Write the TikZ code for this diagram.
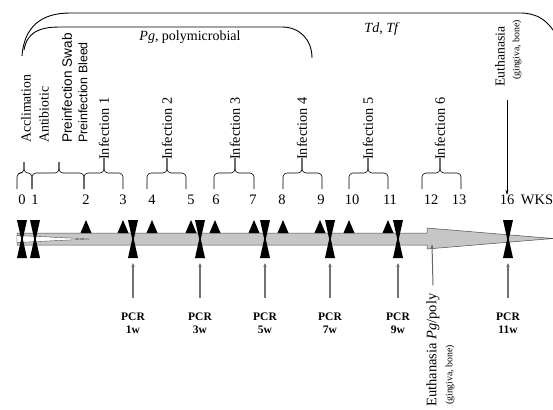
\documentclass[tikz,border=0pt]{standalone}
\usepackage{fontspec}
\setmainfont{Liberation Serif}
\newfontfamily\arialfont{Liberation Sans}
\usetikzlibrary{arrows.meta}

\begin{document}
\begin{tikzpicture}[
    x=1pt, y=-1pt, % one unit = one pixel of the reference
    week/.style={inner sep=0pt, font=\fontsize{14.5}{16}\selectfont},
    vlabel/.style={rotate=90, anchor=west, inner sep=0pt, font=\fontsize{14.3}{16}\selectfont},
    pcrlabel/.style={align=center, inner sep=0pt, font=\fontsize{11.5}{13}\selectfont\bfseries},
    timebrace/.style={rounded corners=4pt, line width=0.6pt},
    bracket/.style={line width=0.9pt},
    shaft/.style={fill=gray!45, draw=black!70, line width=0.5pt},
    pcrarrow/.style={-{Stealth[length=4pt,width=3.5pt]}, black!55, line width=1.1pt},
    connector/.style={-{Stealth[length=5pt,width=3pt]}, line width=0.5pt}
]
    \useasboundingbox (0,0) rectangle (553,409);

    % Brackets over the time line
    \draw[bracket] (22,56) .. controls (24,28) and (40,13) .. (70,13) -- (520,13)
        .. controls (536,13) and (549,19) .. (560,42);
    \draw[bracket] (24,50) .. controls (27,33) and (38,27) .. (60,27) -- (282,27)
        .. controls (300,27) and (312,40) .. (312,58);
    \node[font=\fontsize{14}{16}\selectfont] (pg) at (190,37) {\textit{Pg}, polymicrobial};
    \node[font=\fontsize{14}{16}\selectfont] (tdtf) at (382,29) {\textit{Td, Tf}};

    % Labels above the braces
    \node[vlabel, font=\fontsize{13.8}{16}\selectfont] (acclim) at (26,143) {Acclimation};
    \node[vlabel, font=\fontsize{13.8}{16}\selectfont] (antibio) at (44,143) {Antibiotic};
    \node[vlabel, font=\arialfont\fontsize{13.6}{15}\selectfont] (swab) at (67,143) {Preinfection Swab};
    \node[vlabel, font=\arialfont\fontsize{12.4}{14}\selectfont] (bleed) at (83,143) {Preinfection Bleed};
    \foreach \x [count=\i] in {104,167,235,302,368,440}
        \node[vlabel] (inf\i) at (\x,160) {Infection \i};
    \node[vlabel, font=\fontsize{13.7}{16}\selectfont] (euth) at (500,87) {Euthanasia};
    \node[vlabel, font=\fontsize{9.8}{12}\selectfont] (euthtis) at (517,80) {(gingiva, bone)};

    % Braces
    \foreach \a/\m/\b/\t in {17/24/32/162, 32/59/84/162, 84/104/123/158, 147/167/186/158,
                             214/235/254/158, 283/302/322/158, 349/368/388/158, 422/440/461/158} {
        \draw[timebrace] (\a,189) |- (\m,173) -- (\m,\t);
        \draw[timebrace] (\b,189) |- (\m,173) -- (\m,\t);
    }

    % Weeks
    \foreach \x/\n in {22/0, 35/1, 86/2, 123/3, 152/4, 191/5, 216/6, 253/7, 282/8,
                       321/9, 352/10, 390/11, 431/12, 459/13, 507/16}
        \node[week] (w\n) at (\x,200) {\n};
    \node[week] (wks) at (537,200) {WKS};

    % Time line
    \draw[shaft] (17,233) -- (427,233) -- (427,228) -- (553,238.5) -- (427,249)
        -- (427,245) -- (17,245) -- cycle;
    \filldraw[fill=white, draw=black!70, line width=0.4pt] (17,235.5) -- (90,239) -- (17,242.5) -- cycle;

    % Infection markers
    \foreach \x in {86,123,152,191,215,254,283,320,349,388}
        \fill (\x-5.5,233) -- (\x,220) -- (\x+5.5,233) -- cycle;

    % Sampling markers
    \foreach \x in {22,35,133,200,265,330,398,508} {
        \fill (\x-5,220) -- (\x+5,220) -- (\x+0.8,239) -- (\x+5,258) -- (\x-5,258)
            -- (\x-0.8,239) -- cycle;
        \coordinate (hb\x) at (\x,258);
    }

    % PCR
    \foreach \x/\k in {133/1, 200/3, 265/5, 330/7, 398/9, 508/11} {
        \node[pcrlabel] (pcr\k) at (\x,323) {PCR\\\k w};
        \draw[pcrarrow, shorten <=14pt, shorten >=5pt] (pcr\k.north) -- (hb\x);
    }

    % Euthanasia
    \node[vlabel, font=\fontsize{14.5}{16}\selectfont] (euthpg) at (433,407) {Euthanasia \textit{Pg}/poly};
    \node[vlabel, font=\fontsize{9.8}{12}\selectfont] (euthpgtis) at (450,405) {(gingiva, bone)};
    \coordinate (headbase) at (432,244);
    \coordinate (euthtop) at (507,100);
    \draw[connector, black!60, line width=1pt] ([yshift=8pt]euthpg.east) -- (headbase);
    \draw[connector] (euthtop) -- (w16.north);
\end{tikzpicture}
\end{document}
